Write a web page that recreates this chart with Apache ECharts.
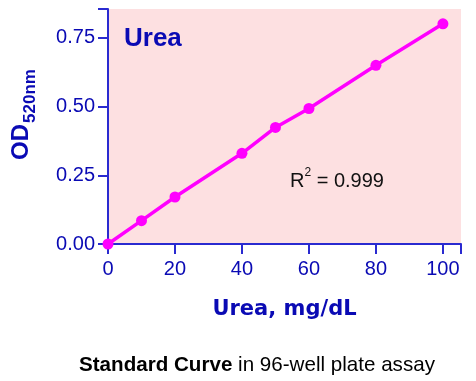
<!DOCTYPE html>
<html><head><meta charset="utf-8">
<script src="https://cdn.jsdelivr.net/npm/echarts@6/dist/echarts.min.js"></script>
<style>html,body{margin:0;padding:0;background:#fff}#c{width:476px;height:381px}</style>
</head><body><div id="c"></div>
<script>
const concentrations = [0, 10, 20, 40, 50, 60, 80, 100];
const odValues = [0.000, 0.085, 0.171, 0.330, 0.424, 0.493, 0.650, 0.801];
const xTicks = [0, 20, 40, 60, 80, 100];
const yTicks = [0.00, 0.25, 0.50, 0.75];
const FONT = '"Liberation Sans", Arial, sans-serif';
const BLUE = '#0a0ab4';
const AXIS = '#2a2ad0';

const chart = echarts.init(document.getElementById('c'), null, {renderer: 'canvas'});
chart.setOption({
  animation: false,
  backgroundColor: '#ffffff',
  textStyle: {fontFamily: FONT},
  grid: {left: 108, right: 15, top: 9, bottom: 137, show: true, backgroundColor: '#fde0e1', borderWidth: 0},
  xAxis: {
    type: 'value', min: 0, max: 105.4, interval: 20,
    axisLine: {show: true, onZero: false, lineStyle: {color: AXIS, width: 2}},
    axisTick: {show: true, inside: false, length: 10, lineStyle: {color: AXIS, width: 2}},
    splitLine: {show: false},
    axisLabel: {color: BLUE, fontSize: 20, margin: 15, fontFamily: FONT,
      formatter: v => xTicks.includes(v) ? String(v) : ''},
    name: 'Urea, mg/dL', nameLocation: 'middle', nameGap: 55,
    nameTextStyle: {color: BLUE, fontSize: 21, fontWeight: 'bold', fontFamily: '"DejaVu Sans", sans-serif'}
  },
  yAxis: {
    type: 'value', min: 0, max: 0.855, interval: 0.25,
    axisLine: {show: true, onZero: false, lineStyle: {color: AXIS, width: 2}},
    axisTick: {show: true, inside: false, length: 10, lineStyle: {color: AXIS, width: 2}},
    splitLine: {show: false},
    axisLabel: {color: BLUE, fontSize: 20, margin: 13, fontFamily: FONT,
      formatter: v => { const t = yTicks.find(y => Math.abs(y - v) < 1e-9); return t === undefined ? '' : t.toFixed(2); }},
    name: '{a|OD}{b|520nm}', nameLocation: 'middle', nameGap: 75, nameRotate: 90,
    nameTextStyle: {
      padding: [0, 0, 0, 24],
      rich: {
        a: {color: BLUE, fontSize: 24, fontWeight: 'bold', fontFamily: FONT, verticalAlign: 'bottom', lineHeight: 26},
        b: {color: BLUE, fontSize: 17, fontWeight: 'bold', fontFamily: FONT, verticalAlign: 'bottom', lineHeight: 26, padding: [0, 0, -6, 1]}
      }
    }
  },
  title: [
    {text: 'Urea', left: 119, top: 21, textStyle: {color: BLUE, fontSize: 26, fontWeight: 'bold', fontFamily: FONT}},
    {text: '{a|Standard Curve}{b| in 96-well plate assay}', left: 74, top: 350,
      textStyle: {fontWeight: 'normal', rich: {
        a: {color: '#000', fontSize: 20.6, fontWeight: 'bold', fontFamily: FONT},
        b: {color: '#000', fontSize: 20.6, fontWeight: 'normal', fontFamily: FONT}
      }}},
    {text: '{a|R}{s|2}{a| = 0.999}', left: 285, top: 162,
      textStyle: {fontWeight: 'normal', rich: {
        a: {color: '#111', fontSize: 20, fontWeight: 'normal', fontFamily: FONT, verticalAlign: 'bottom', lineHeight: 24},
        s: {color: '#111', fontSize: 12, fontWeight: 'normal', fontFamily: FONT, verticalAlign: 'top', lineHeight: 24}
      }}}
  ],
  series: [{
    type: 'line',
    data: concentrations.map((x, i) => [x, odValues[i]]),
    symbol: 'circle', symbolSize: 11,
    lineStyle: {color: '#ff00ff', width: 3.5},
    itemStyle: {color: '#ff00ff'},
    clip: false
  }]
});
</script></body></html>
